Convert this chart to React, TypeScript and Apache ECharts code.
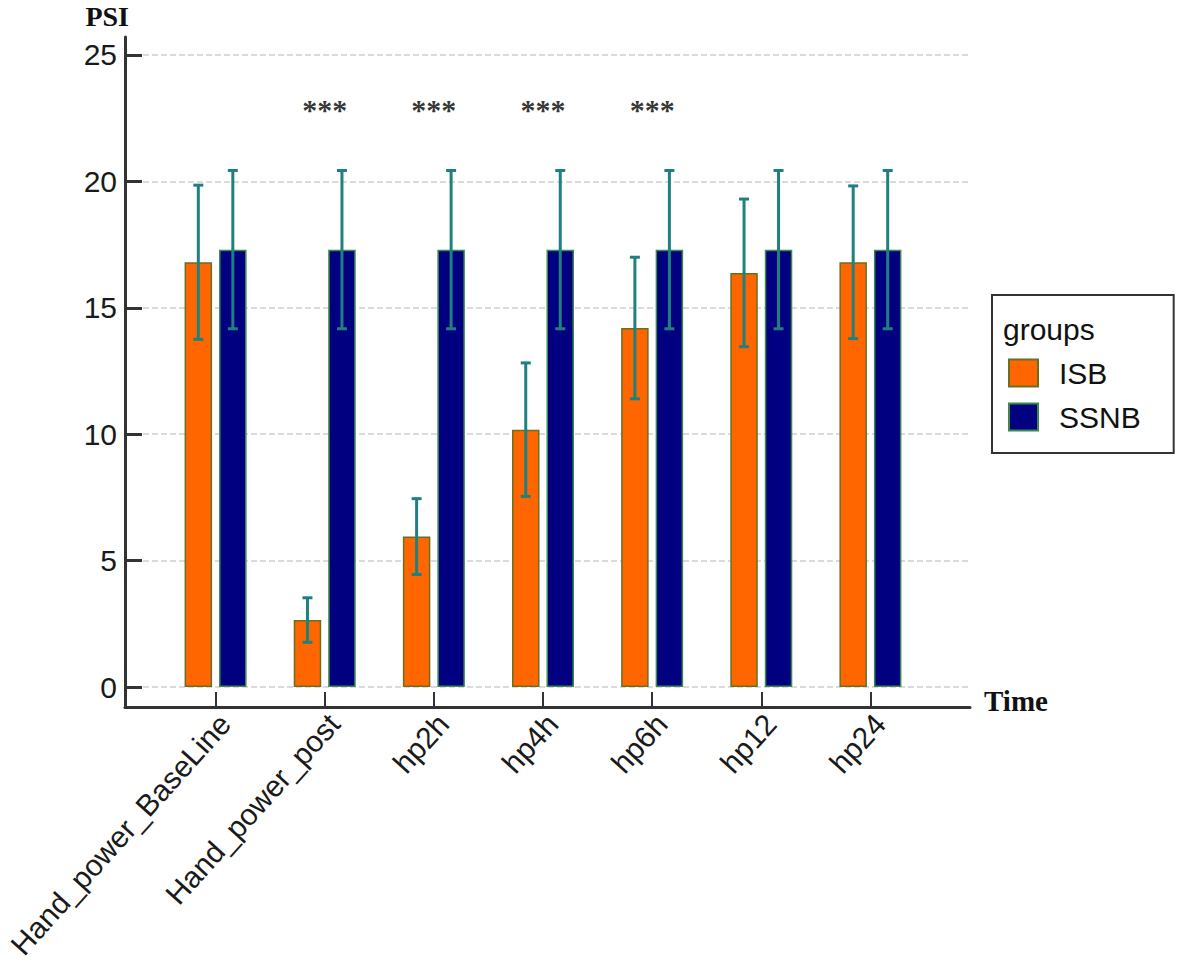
import React, { useEffect, useRef } from 'react';
import * as echarts from 'echarts';

const categories = ['Hand_power_BaseLine', 'Hand_power_post', 'hp2h', 'hp4h', 'hp6h', 'hp12', 'hp24'];
const seriesNames = ['ISB', 'SSNB'];
const isbMean = [16.8, 2.65, 5.95, 10.18, 14.2, 16.38, 16.8];
const isbSd = [3.05, 0.88, 1.5, 2.64, 2.8, 2.92, 3.02];
const ssnbMean = [17.3, 17.3, 17.3, 17.3, 17.3, 17.3, 17.3];
const ssnbSd = [3.13, 3.13, 3.13, 3.13, 3.13, 3.13, 3.13];
const significance = ['', '***', '***', '***', '***', '', ''];
const yTicks = [0, 5, 10, 15, 20, 25];

const Y_MIN = -0.79;
const Y_MAX = 25.71;
const STAR_LEVEL = 22.85;
const BAR_W = 27.5;
const BAR_GAP_PX = 7;
const ERR_COLOR = '#1f8080';
const AXIS_COLOR = '#333333';

function errorSeries(name: string, means: number[], sds: number[], offset: number) {
  return {
    name: name + ' SD',
    type: 'custom',
    xAxisIndex: 1,
    yAxisIndex: 1,
    z: 5,
    data: means.map((m, i) => [i, m - sds[i], m + sds[i]]),
    renderItem: (params: any, api: any) => {
      const xi = api.value(0);
      const top = api.coord([xi, api.value(2)]);
      const bot = api.coord([xi, api.value(1)]);
      const x = top[0] + offset;
      const style = { stroke: ERR_COLOR, lineWidth: 3 };
      return {
        type: 'group',
        children: [
          { type: 'line', shape: { x1: x, y1: top[1], x2: x, y2: bot[1] }, style },
          { type: 'line', shape: { x1: x - 5, y1: top[1], x2: x + 5, y2: top[1] }, style },
          { type: 'line', shape: { x1: x - 5, y1: bot[1], x2: x + 5, y2: bot[1] }, style },
        ],
      };
    },
  };
}

export default function App() {
  const ref = useRef<HTMLDivElement>(null);
  useEffect(() => {
    if (!ref.current) return;
    const chart = echarts.init(ref.current, undefined, { renderer: 'svg' });
    const off = (BAR_W + BAR_GAP_PX) / 2;
    const option: any = {
      animation: false,
      backgroundColor: '#ffffff',
      grid: [
        { left: 125, right: 210, top: 37, bottom: 266, containLabel: false, outerBoundsMode: 'none' },
        { left: 161, right: 255, top: 37, bottom: 266, containLabel: false, outerBoundsMode: 'none' },
      ],
      xAxis: [
        {
          gridIndex: 0,
          type: 'value',
          min: 0,
          max: 1,
          axisLine: { show: true, onZero: false, lineStyle: { color: AXIS_COLOR, width: 3 } },
          axisTick: { show: false },
          axisLabel: { show: false },
          splitLine: { show: false },
          name: 'Time',
          nameLocation: 'end',
          nameGap: 14,
          nameTextStyle: {
            fontFamily: 'Liberation Serif',
            fontWeight: 'bold',
            fontSize: 29,
            color: '#111',
            verticalAlign: 'bottom',
            padding: [0, 0, -8, 0],
          },
        },
        {
          gridIndex: 1,
          type: 'category',
          data: categories,
          axisLine: { show: false, onZero: false },
          axisTick: { show: true, inside: true, length: 15, alignWithLabel: true, lineStyle: { color: AXIS_COLOR, width: 2 } },
          axisLabel: {
            interval: 0,
            rotate: 48,
            fontSize: 30,
            fontFamily: 'Liberation Sans',
            color: '#1a1a1a',
            margin: 22,
            padding: [0, -14, 0, 0],
          },
          splitLine: { show: false },
        },
      ],
      yAxis: [
        {
          gridIndex: 0,
          type: 'value',
          min: Y_MIN,
          max: Y_MAX,
          axisLine: { show: true, onZero: false, lineStyle: { color: AXIS_COLOR, width: 3 } },
          axisTick: { show: true, inside: true, length: 17, customValues: yTicks, lineStyle: { color: AXIS_COLOR, width: 3 } },
          axisLabel: { customValues: yTicks, fontSize: 30, fontFamily: 'Liberation Sans', color: '#1a1a1a', margin: 8 },
          splitLine: { show: true, lineStyle: { color: '#d0d0d0', type: 'dashed', width: 1.5 } },
          name: 'PSI',
          nameLocation: 'end',
          nameGap: 21,
          nameTextStyle: {
            fontFamily: 'Liberation Serif',
            fontWeight: 'bold',
            fontSize: 28,
            lineHeight: 28,
            color: '#111',
            align: 'right',
            verticalAlign: 'middle',
            padding: [0, -4, 0, 0],
          },
        },
        { gridIndex: 1, type: 'value', min: Y_MIN, max: Y_MAX, show: false, splitLine: { show: false } },
      ],
      legend: {
        orient: 'vertical',
        left: 992,
        top: 295,
        data: seriesNames,
        icon: 'rect',
        itemWidth: 29,
        itemHeight: 27,
        itemGap: 14,
        padding: [63, 33, 21, 16],
        borderColor: '#333',
        borderWidth: 2,
        textStyle: { fontSize: 30, fontFamily: 'Liberation Sans', color: '#111', padding: [0, 0, 0, 16] },
      },
      graphic: [
        {
          type: 'text',
          left: 1003,
          top: 314,
          style: { text: 'groups', fontSize: 30, fontFamily: 'Liberation Sans', fill: '#111' },
        },
      ],
      series: [
        {
          name: seriesNames[0],
          type: 'bar',
          xAxisIndex: 1,
          yAxisIndex: 1,
          data: isbMean,
          barWidth: BAR_W,
          barGap: (BAR_GAP_PX / BAR_W) * 100 + '%',
          itemStyle: { color: '#FF6600', borderColor: '#6a7020', borderWidth: 1.5 },
        },
        {
          name: seriesNames[1],
          type: 'bar',
          xAxisIndex: 1,
          yAxisIndex: 1,
          data: ssnbMean,
          barWidth: BAR_W,
          barGap: (BAR_GAP_PX / BAR_W) * 100 + '%',
          itemStyle: { color: '#000080', borderColor: '#3a8a4a', borderWidth: 1.5 },
        },
        errorSeries(seriesNames[0], isbMean, isbSd, -off),
        errorSeries(seriesNames[1], ssnbMean, ssnbSd, off),
        {
          name: 'significance',
          type: 'scatter',
          xAxisIndex: 1,
          yAxisIndex: 1,
          symbolSize: 0,
          data: significance
            .map((s, i) => (s ? [i, STAR_LEVEL, s] : null))
            .filter((d) => d !== null),
          label: {
            show: true,
            position: 'inside',
            formatter: (p: any) => p.value[2],
            fontFamily: 'Liberation Serif',
            fontWeight: 'bold',
            fontSize: 30,
            color: '#000',
          },
        },
      ],
    };
    chart.setOption(option);
    return () => chart.dispose();
  }, []);
  return <div ref={ref} style={{ position: 'absolute', left: 0, top: 0, width: 1180, height: 973 }} />;
}
